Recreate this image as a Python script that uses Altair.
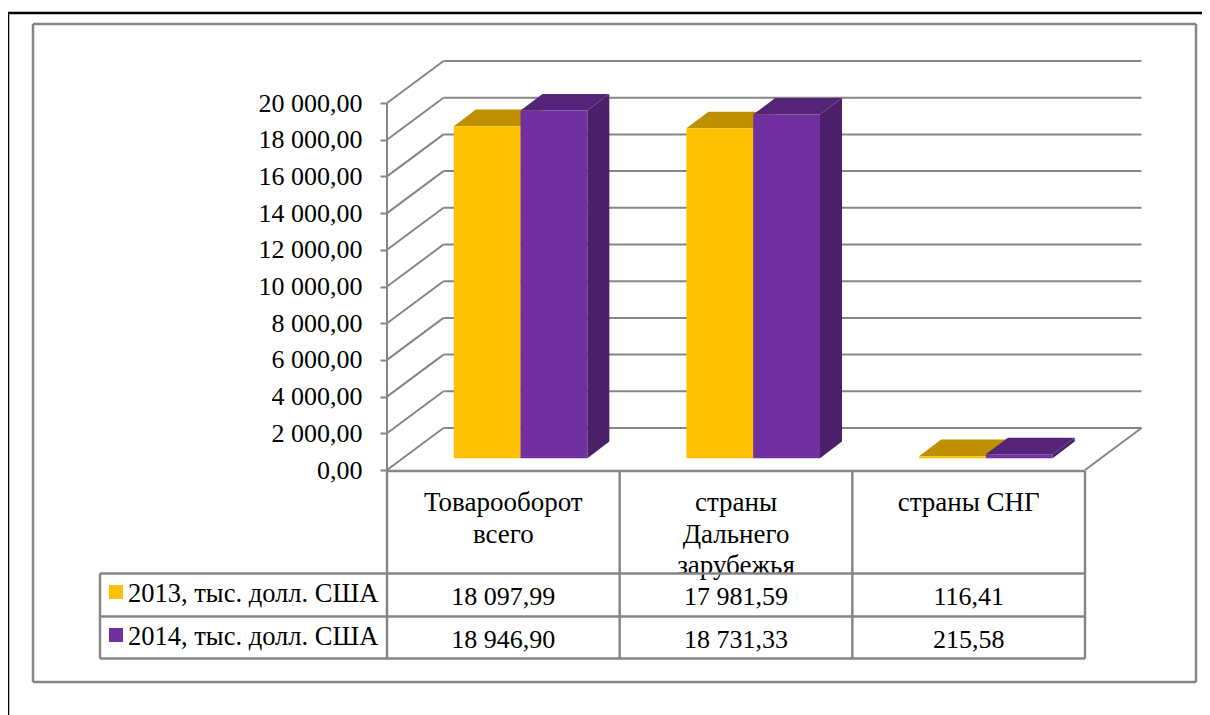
import altair as alt
import pandas as pd

categories = ["Товарооборот\nвсего", "страны\nДальнего\nзарубежья", "страны СНГ"]
series = ["2013, тыс. долл. США", "2014, тыс. долл. США"]
values_2013 = [18097.99, 17981.59, 116.41]
values_2014 = [18946.90, 18731.33, 215.58]
labels_2013 = ["18 097,99", "17 981,59", "116,41"]
labels_2014 = ["18 946,90", "18 731,33", "215,58"]
y_ticks = list(range(0, 20001, 2000))

YELLOW, YELLOW_TOP = "#FFC000", "#BF9000"
PURPLE, PURPLE_TOP, PURPLE_SIDE = "#7030A0", "#542478", "#4A2068"
GRAY = "#868686"
FONT = "Liberation Serif"
FS_VALUE = 26
FS_LABEL = 27
FS_LEGEND = 26.5

# layout (page pixels) -> scale units
W, H = 1194, 707
X0, CW = 387.0, 232.67
Y0, PPV = 470.0, 0.01835
def ux(p): return (p - X0) / CW
def uy(p): return (Y0 - p) / PPV

x_scale = alt.Scale(domain=[ux(8), ux(8 + W)], range=[0, W], nice=False, zero=False)
y_scale = alt.Scale(domain=[uy(8 + H), uy(8)], range=[H, 0], nice=False, zero=False)
y_axis = alt.Axis(
    values=y_ticks, orient="left", offset=-(X0 - 8), domain=False, grid=False, title=None,
    tickColor=GRAY, tickWidth=2, tickSize=7, labelPadding=18,
    labelFont=FONT, labelFontSize=FS_VALUE, labelColor="#000000", labelOverlap=False,
    labelExpr="replace(replace(format(datum.value, ',.2f'), ',', ' '), '.', ',')",
)
X = lambda f: alt.X(f, type="quantitative", scale=x_scale, axis=None)
Y = lambda f: alt.Y(f, type="quantitative", scale=y_scale, axis=y_axis)

WALL_DX, WALL_DY = 56.5 / CW, 42.0 / PPV
BAR_DX, BAR_DY = 22.0 / CW, 16.7 / PPV
BAR_START, BAR_W = 0.287, 0.287
BASE = 11.7 / PPV


def rules(segs):
    return pd.DataFrame(segs, columns=["x", "y", "x2", "y2"])


def rule_layer(segs, color=GRAY, width=2.0):
    return alt.Chart(rules(segs)).mark_rule(color=color, strokeWidth=width).encode(
        x=X("x"), y=Y("y"), x2="x2", y2="y2"
    )


def bar_layers(vals, k, front, top, side):
    fr, tp, sd = [], [], []
    for i, v in enumerate(vals):
        l = i + BAR_START + k * BAR_W
        r = l + BAR_W
        fr.append(dict(x=l, x2=r, y=BASE, y2=BASE + v))
        tp += [dict(id=i, y=BASE + v, x=l, x2=r),
               dict(id=i, y=BASE + v + BAR_DY, x=l + BAR_DX, x2=r + BAR_DX)]
        sd += [dict(id=i, x=r, y=BASE, y2=BASE + v),
               dict(id=i, x=r + BAR_DX, y=BASE + BAR_DY, y2=BASE + v + BAR_DY)]
    return [
        alt.Chart(pd.DataFrame(sd)).mark_area(color=side).encode(
            x=X("x"), y=Y("y"), y2="y2", detail="id:N"),
        alt.Chart(pd.DataFrame(tp)).mark_area(color=top, orient="horizontal").encode(
            y=Y("y"), x=X("x"), x2="x2", detail="id:N"),
        alt.Chart(pd.DataFrame(fr)).mark_rect(color=front).encode(
            x=X("x"), x2="x2", y=Y("y"), y2="y2"),
    ]


# outer frames
frames = rule_layer([
    (ux(8), uy(13), ux(8 + W), uy(13)),
    (ux(8), uy(13), ux(8), uy(8 + H)),
], "#000000", 2.5)
border = rule_layer([
    (ux(33), uy(24), ux(1196), uy(24)),
    (ux(33), uy(682), ux(1196), uy(682)),
    (ux(33), uy(24), ux(33), uy(682)),
    (ux(1196), uy(24), ux(1196), uy(682)),
], GRAY, 2.5)

# walls
walls = rule_layer(
    [(0, v, WALL_DX, v + WALL_DY) for v in y_ticks]
    + [(WALL_DX, v + WALL_DY, 3 + WALL_DX, v + WALL_DY) for v in y_ticks]
    + [(3, 0, 3 + WALL_DX, WALL_DY), (0, 0, 0, 20000)],
    GRAY, 2.0,
)

bars = bar_layers(values_2013, 0, YELLOW, YELLOW_TOP, YELLOW_TOP) + \
       bar_layers(values_2014, 1, PURPLE, PURPLE_TOP, PURPLE_SIDE)

# data table
ROWS = [uy(471), uy(573.5), uy(616.5), uy(658.5)]
LEFT = ux(100)
cat_df = pd.DataFrame({"x": [i + 0.5 for i in range(3)], "y": uy(490), "t": categories})
cat_text = alt.Chart(cat_df).mark_text(
    font=FONT, fontSize=FS_LABEL, lineBreak="\n", lineHeight=31.5, baseline="top", align="center", color="#000000"
).encode(x=X("x"), y=Y("y"), text="t:N")

row_df = pd.DataFrame(
    [dict(x=i + 0.5, y=uy(596.5), t=labels_2013[i]) for i in range(3)]
    + [dict(x=i + 0.5, y=uy(639.5), t=labels_2014[i]) for i in range(3)]
)
row_text = alt.Chart(row_df).mark_text(
    font=FONT, fontSize=FS_VALUE, baseline="middle", align="center", color="#000000"
).encode(x=X("x"), y=Y("y"), text="t:N")

leg_df = pd.DataFrame({"x": ux(128), "y": [uy(594), uy(637)], "t": series})
leg_text = alt.Chart(leg_df).mark_text(
    font=FONT, fontSize=FS_LEGEND, baseline="middle", align="left", color="#000000"
).encode(x=X("x"), y=Y("y"), text="t:N")
sw_df = pd.DataFrame({"x": ux(116), "y": [uy(592), uy(635)], "t": series})
swatches = alt.Chart(sw_df).mark_square(size=196, opacity=1).encode(
    x=X("x"), y=Y("y"),
    color=alt.Color("t:N", scale=alt.Scale(domain=series, range=[YELLOW, PURPLE]), legend=None),
)

table_lines = rule_layer(
    [(0, ROWS[0], 3, ROWS[0])]
    + [(LEFT, r, 3, r) for r in ROWS[1:]]
    + [(c, ROWS[0], c, ROWS[3]) for c in [0, 1, 2, 3]]
    + [(LEFT, ROWS[1], LEFT, ROWS[3])],
    GRAY, 2.5,
)

chart = alt.layer(
    frames, border, walls, *bars, cat_text, row_text, leg_text, swatches, table_lines
).properties(
    width=W, height=H, padding=0,
    autosize=alt.AutoSizeParams(type="none"),
).configure_view(stroke=None)

chart.save("out.html", embed_options={"renderer": "svg", "actions": False})
